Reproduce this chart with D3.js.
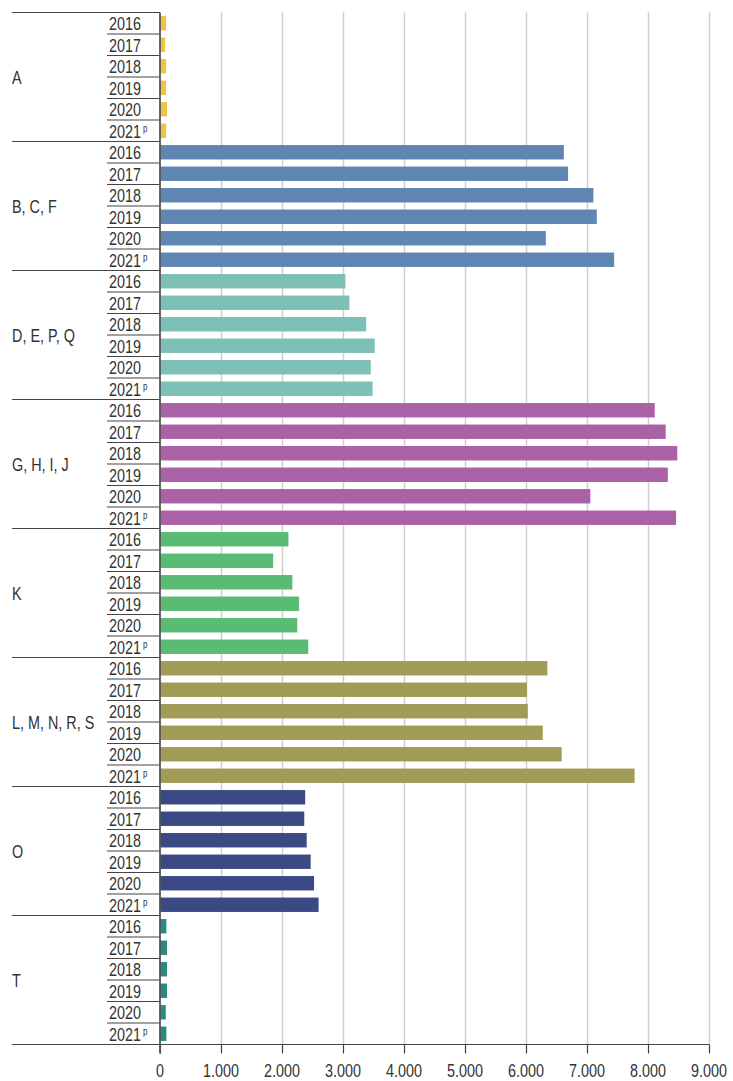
<!DOCTYPE html>
<html>
<head>
<meta charset="utf-8">
<script src="https://cdn.jsdelivr.net/npm/d3@7"></script>
<style>
  body { margin: 0; background: #fff; }
  svg text { font-family: "Liberation Sans", Arial, sans-serif; fill: #333; }
</style>
</head>
<body>
<div id="chart"></div>
<script>
// sectors (group labels) and colours
const groups = ['A', 'B, C, F', 'D, E, P, Q', 'G, H, I, J', 'K', 'L, M, N, R, S', 'O', 'T'];
const colors = ['#f2c343', '#5f85b2', '#7dc0b6', '#aa61a6', '#59bc72', '#a29a57', '#3b4a85', '#2b8a84'];
const years = ['2016', '2017', '2018', '2019', '2020', '2021'];
const provisional = '2021'; // marked with superscript p

// values per group, one per year 2016..2021
const valuesA = [100, 85, 100, 100, 115, 100];
const valuesBCF = [6620, 6690, 7105, 7160, 6325, 7445];
const valuesDEPQ = [3040, 3105, 3380, 3520, 3455, 3485];
const valuesGHIJ = [8110, 8290, 8480, 8325, 7055, 8460];
const valuesK = [2105, 1855, 2170, 2280, 2250, 2430];
const valuesLMNRS = [6350, 6015, 6030, 6275, 6585, 7780];
const valuesO = [2380, 2365, 2405, 2470, 2525, 2600];
const valuesT = [105, 115, 115, 115, 95, 105];
const allValues = [valuesA, valuesBCF, valuesDEPQ, valuesGHIJ, valuesK, valuesLMNRS, valuesO, valuesT];

const xTicks = [0, 1000, 2000, 3000, 4000, 5000, 6000, 7000, 8000, 9000];

const width = 733, height = 1081;
const margin = { left: 160, right: 709, top: 12.5, bottom: 1044.5 };
const narrow = 0.8; // horizontal squeeze to mimic the condensed typeface

const svg = d3.select('#chart').append('svg')
  .attr('width', width)
  .attr('height', height);

const de = d3.formatLocale({ decimal: ',', thousands: '.', grouping: [3], currency: ['', '€'] });
const fmt = de.format(',');

const x = d3.scaleLinear().domain([0, 9000]).range([margin.left, margin.right]);
const yGroup = d3.scaleBand().domain(groups).range([margin.top, margin.bottom]);
const yYear = d3.scaleBand().domain(years).range([0, yGroup.bandwidth()]).paddingInner(0.33).paddingOuter(0.165);
const yRow = d3.scaleBand().domain(years).range([0, yGroup.bandwidth()]);

// condensed text helper
function label(parent, tx, ty, txt, size, anchor) {
  return parent.append('text')
    .attr('transform', `translate(${tx},${ty}) scale(${narrow},1)`)
    .attr('text-anchor', anchor || 'start')
    .style('font-size', size + 'px')
    .text(txt);
}

// vertical gridlines
svg.append('g')
  .attr('transform', `translate(0,${margin.bottom})`)
  .call(d3.axisBottom(x).tickValues(xTicks.slice(1)).tickSize(-(margin.bottom - margin.top)).tickFormat(''))
  .call(g => g.select('.domain').remove())
  .call(g => g.selectAll('.tick line').attr('stroke', '#cfcfcf').attr('stroke-width', 1.5));

// flatten data
const rows = [];
groups.forEach((g, gi) => {
  years.forEach((yr, yi) => {
    rows.push({ group: g, year: yr, value: allValues[gi][yi], color: colors[gi] });
  });
});

// bars
svg.append('g').selectAll('rect')
  .data(rows)
  .join('rect')
  .attr('x', x(0))
  .attr('y', d => yGroup(d.group) + yYear(d.year))
  .attr('width', d => x(d.value) - x(0))
  .attr('height', yYear.bandwidth())
  .attr('fill', d => d.color);

// group labels and separator lines
const gLabels = svg.append('g');
groups.forEach(g => {
  const y0 = yGroup(g);
  gLabels.append('line')
    .attr('x1', 12).attr('x2', margin.left)
    .attr('y1', y0).attr('y2', y0)
    .attr('stroke', '#444').attr('stroke-width', 1.2);
  label(gLabels, 12, y0 + yGroup.bandwidth() / 2 + 6.5, g, 18);

  years.forEach((yr, i) => {
    const rowBottom = y0 + yRow(yr) + yRow.bandwidth();
    if (i < years.length - 1) {
      gLabels.append('line')
        .attr('x1', 107).attr('x2', margin.left)
        .attr('y1', rowBottom).attr('y2', rowBottom)
        .attr('stroke', '#444').attr('stroke-width', 1.2);
    }
    label(gLabels, 141, rowBottom - 4, yr, 18, 'end');
    if (yr === provisional) {
      label(gLabels, 143, rowBottom - 10, 'p', 10);
    }
  });
});

// x axis
svg.append('g')
  .attr('transform', `translate(0,${margin.bottom})`)
  .call(d3.axisBottom(x).tickValues(xTicks).tickSize(9).tickFormat(''))
  .call(g => g.select('.domain').remove())
  .call(g => g.selectAll('.tick line').attr('stroke', '#444').attr('stroke-width', 1.2));

const tickLabels = svg.append('g');
xTicks.forEach(t => label(tickLabels, x(t), 1077, fmt(t), 18, 'middle'));

svg.append('line')
  .attr('x1', 12).attr('x2', margin.right)
  .attr('y1', margin.bottom).attr('y2', margin.bottom)
  .attr('stroke', '#444').attr('stroke-width', 1.2);

// vertical axis line
svg.append('line')
  .attr('x1', margin.left).attr('x2', margin.left)
  .attr('y1', margin.top).attr('y2', margin.bottom + 9)
  .attr('stroke', '#555').attr('stroke-width', 1.8);
</script>
</body>
</html>
